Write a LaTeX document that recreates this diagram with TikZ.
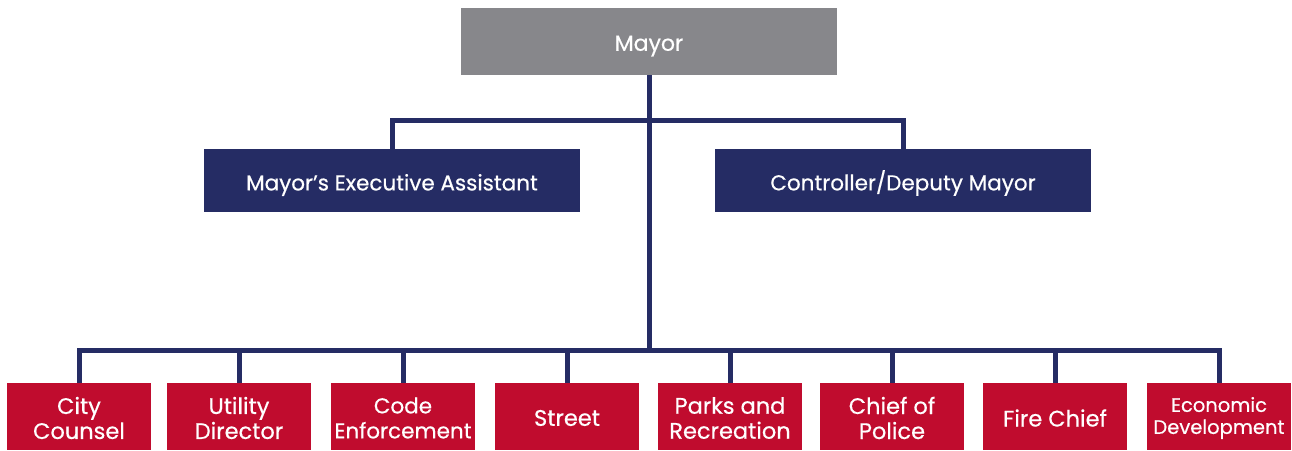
\documentclass[tikz,border=0pt]{standalone}
\usepackage{fontspec}
\setmainfont{Poppins}[FakeBold=0.5]
\definecolor{navy}{HTML}{252C64}
\definecolor{cred}{HTML}{C00C2E}
\definecolor{mgray}{HTML}{87878B}
\begin{document}
\begin{tikzpicture}[x=1pt,y=-1pt,
  box/.style={rectangle,inner sep=0pt},
  txt/.style={text=white,align=center,inner sep=0pt},
  ltop/.style={txt,yshift=-4.5pt,font=\fontsize{22}{25}\selectfont},
  lmid/.style={txt,yshift=-4.5pt,font=\fontsize{21.5}{24}\selectfont},
  lbot/.style={txt,yshift=-1.5pt,font=\fontsize{22.5}{25}\selectfont},
  topbox/.style={box,fill=mgray,minimum width=376pt,minimum height=67pt},
  midbox/.style={box,fill=navy,minimum width=376pt,minimum height=63pt},
  botbox/.style={box,fill=cred,minimum width=144pt,minimum height=67pt},
  conn/.style={draw=navy,line width=5pt}]
\fill[white] (0,0) rectangle (1292,450);
\useasboundingbox (0,0) rectangle (1292,450);
\node[topbox,label={[ltop]center:Mayor}] (mayor) at (649,41.5) {};
\node[midbox,label={[lmid]center:Mayor’s Executive Assistant}] (exec) at (392,180.5) {};
\node[midbox,label={[lmid,yshift=2pt]center:Controller/Deputy Mayor}] (ctrl) at (903,180.5) {};
\node[botbox,label={[lbot]center:{City\\Counsel}}] (b1) at (79,416.5) {};
\node[botbox,label={[lbot]center:{Utility\\Director}}] (b2) at (239,416.5) {};
\node[botbox,label={[lbot,font=\fontsize{21.5}{25}\selectfont]center:{Code\\Enforcement}}] (b3) at (403,416.5) {};
\node[botbox,label={[lbot]center:Street}] (b4) at (567,416.5) {};
\node[botbox,label={[lbot]center:{Parks and\\Recreation}}] (b5) at (730,416.5) {};
\node[botbox,label={[lbot]center:{Chief of\\Police}}] (b6) at (892,416.5) {};
\node[botbox,label={[lbot]center:Fire Chief}] (b7) at (1055,416.5) {};
\node[botbox,label={[lbot,font=\fontsize{19.5}{22}\selectfont]center:{Economic\\Development}}] (b8) at (1219,416.5) {};
\coordinate (tb) at (649,120);
\coordinate (bb) at (649,350);
\draw[conn] (mayor.south) -- (bb);
\draw[conn] (exec.north) |- (tb) -| (ctrl.north);
\draw[conn] (b1.north) |- (bb) -| (b8.north);
\foreach \i in {2,...,7} \draw[conn] (b\i.north) -- (b\i.north |- bb);
\end{tikzpicture}
\end{document}
